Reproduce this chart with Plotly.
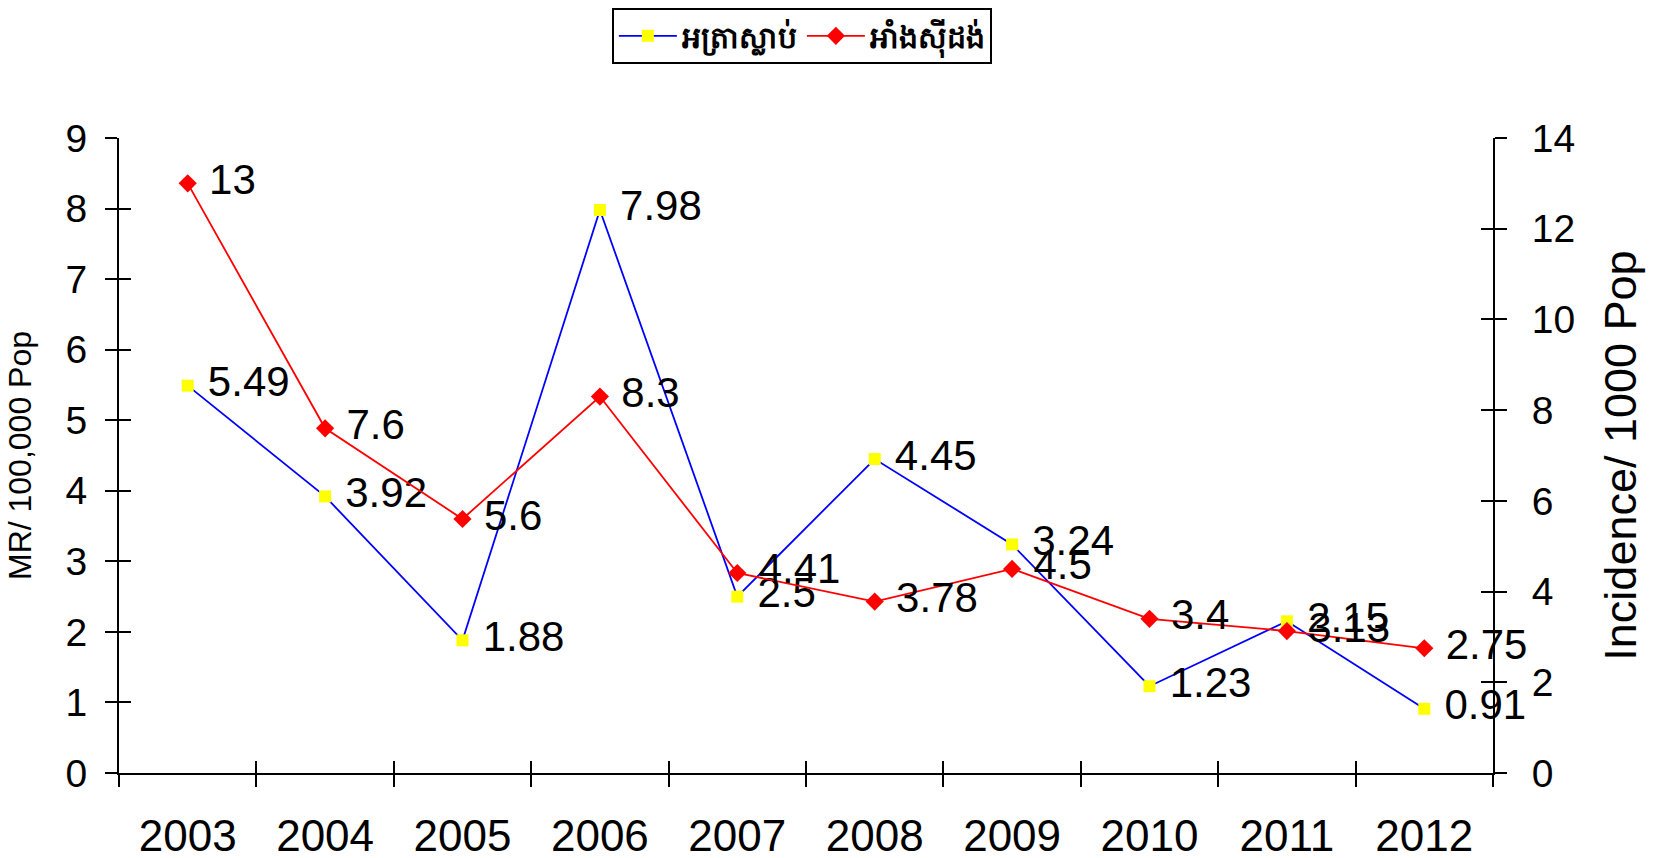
import plotly.graph_objects as go

years = ["2003", "2004", "2005", "2006", "2007", "2008", "2009", "2010", "2011", "2012"]
mortality = [5.49, 3.92, 1.88, 7.98, 2.5, 4.45, 3.24, 1.23, 2.15, 0.91]
incidence = [13, 7.6, 5.6, 8.3, 4.41, 3.78, 4.5, 3.4, 3.13, 2.75]
name_mr = "អត្រាស្លាប់"
name_inc = "អាំងស៊ីដង់"
left_ticks = list(range(0, 10))
right_ticks = list(range(0, 15, 2))

FONT = "Liberation Sans, Arial, sans-serif"
n = len(years)
bounds = [i - 0.5 for i in range(n + 1)]

fig = go.Figure()
fig.add_trace(go.Scatter(
    x=years, y=mortality, name=name_mr, mode="lines+markers+text",
    line=dict(color="#0000FF", width=1.8),
    marker=dict(symbol="square", size=12, color="#FFFF00"),
    text=[" " + str(v) for v in mortality], textposition="middle right",
    textfont=dict(family=FONT, size=42, color="black"),
    yaxis="y", cliponaxis=False,
))
fig.add_trace(go.Scatter(
    x=years, y=incidence, name=name_inc, mode="lines+markers+text",
    line=dict(color="#FF0000", width=1.8),
    marker=dict(symbol="diamond", size=14, color="#FF0000"),
    text=[" " + str(v) for v in incidence], textposition="middle right",
    textfont=dict(family=FONT, size=42, color="black"),
    yaxis="y2", cliponaxis=False,
))
# helper empty traces so overlay tick axes are created
fig.add_trace(go.Scatter(x=[], y=[], xaxis="x2", yaxis="y3", showlegend=False, hoverinfo="skip"))
fig.add_trace(go.Scatter(x=[], y=[], xaxis="x2", yaxis="y4", showlegend=False, hoverinfo="skip"))

axis_common = dict(showgrid=False, zeroline=False, linecolor="black", linewidth=2,
                   tickcolor="black", tickwidth=1.5, ticklen=12, automargin=False)
overlay_common = dict(showticklabels=False, showline=False, showgrid=False, zeroline=False,
                      tickcolor="black", tickwidth=1.5, ticklen=12, automargin=False)

fig.update_layout(
    width=1660, height=858,
    paper_bgcolor="white", plot_bgcolor="white",
    margin=dict(l=119, r=167, t=138, b=85, autoexpand=False),
    font=dict(family=FONT, color="black"),
    showlegend=True,
    legend=dict(orientation="h", x=0.497, xanchor="center", y=1.205, yanchor="top",
                bordercolor="black", borderwidth=2, bgcolor="white", itemwidth=58,
                font=dict(family="Noto Sans, DejaVu Sans, sans-serif", size=30,
                          color="black", weight="bold")),
    xaxis=dict(type="category", categoryarray=years, categoryorder="array",
               range=[-0.5, n - 0.5], ticks="outside", tickson="boundaries",
               tickfont=dict(size=44), ticklabelstandoff=23, **axis_common),
    xaxis2=dict(overlaying="x", anchor="y", range=[-0.5, n - 0.5], tickmode="array",
                tickvals=bounds, ticks="inside", **overlay_common),
    yaxis=dict(range=[0, 9], tickmode="array", tickvals=left_ticks, ticks="outside",
               tickfont=dict(size=39), ticklabelstandoff=10,
               title=dict(text="MR/ 100,000 Pop", font=dict(size=32), standoff=24),
               **axis_common),
    yaxis2=dict(range=[0, 14], tickmode="array", tickvals=right_ticks, ticks="outside",
                overlaying="y", side="right", anchor="x",
                tickfont=dict(size=39), ticklabelstandoff=17,
                title=dict(text="Incidence/ 1000 Pop", font=dict(size=45), standoff=30),
                **axis_common),
    yaxis3=dict(range=[0, 9], tickmode="array", tickvals=left_ticks, ticks="inside",
                overlaying="y", side="left", anchor="x2", **overlay_common),
    yaxis4=dict(range=[0, 14], tickmode="array", tickvals=right_ticks, ticks="inside",
                overlaying="y", side="right", anchor="x2", **overlay_common),
)

fig.write_html("out.html", config={"displayModeBar": False},
               post_script="document.body.style.margin='0px';document.body.style.overflow='hidden';")
